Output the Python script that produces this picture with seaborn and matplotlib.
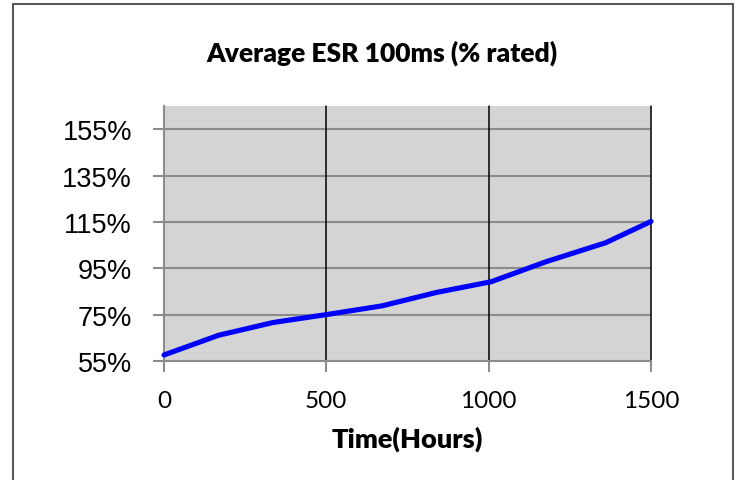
import numpy as np
import pandas as pd
import matplotlib
matplotlib.use("Agg")
import matplotlib.pyplot as plt
import seaborn as sns
from matplotlib.patches import Rectangle
from matplotlib.ticker import FuncFormatter

# values
hours = [0, 168, 336, 504, 672, 840, 1008, 1176, 1360, 1500]
esr_pct = [57.6, 66.1, 71.6, 75.1, 78.8, 84.6, 89.2, 97.8, 106.0, 115.2]
y_ticks = [55, 75, 95, 115, 135, 155]
x_ticks = [0, 500, 1000, 1500]

df = pd.DataFrame({"hours": hours, "esr": esr_pct})

sns.set_theme(style="white")
plt.rcParams["font.family"] = ["Liberation Sans", "DejaVu Sans"]

fig = plt.figure(figsize=(7.35, 4.81), dpi=100)
ax = fig.add_axes([164 / 735, 1 - 362 / 481, (651 - 164) / 735, (362 - 107) / 481])
ax.set_facecolor("#d4d4d4")

# outer frame of the chart object
fig.patches.append(Rectangle((13 / 735, -0.02), 720 / 735, 1.02 - 5 / 481,
                             transform=fig.transFigure, fill=False,
                             edgecolor="#5a5a5a", lw=1.5))

for y in y_ticks[1:]:
    ax.axhline(y, color="#8c8c8c", lw=1.5, zorder=1)
for x in x_ticks[1:]:
    ax.axvline(x, color="black", lw=1.1, zorder=1, clip_on=False)

sns.lineplot(data=df, x="hours", y="esr", ax=ax, color="#0000ff", lw=3.7,
             zorder=3, clip_on=False)

ax.set_xlim(0, 1500)
ax.set_ylim(55, 165)
ax.set_xticks(x_ticks)
ax.set_yticks(y_ticks)
ax.yaxis.set_major_formatter(FuncFormatter(lambda v, p: f"{v:.0f}%"))

for s in ["top", "right"]:
    ax.spines[s].set_visible(False)
for s in ["left", "bottom"]:
    ax.spines[s].set_color("#8c8c8c")
    ax.spines[s].set_linewidth(1.5)

ax.tick_params(axis="both", direction="out", length=8, width=1.5, color="#8c8c8c",
               left=True, bottom=True, labelcolor="black")
ax.tick_params(axis="y", labelsize=19.5, pad=15)
ax.tick_params(axis="x", labelsize=17.5, pad=13)
fig.canvas.draw()
for lab in ax.get_yticklabels():
    lab.set_family(["Liberation Sans", "Arial", "DejaVu Sans"])
for lab in ax.get_xticklabels():
    lab.set_family(["Lato", "DejaVu Sans"])

ax.set_xlabel("Time(Hours)", fontsize=19.5, fontweight="heavy",
              family=["Lato", "DejaVu Sans"], labelpad=10, color="black")
ax.set_ylabel("")
fig.text(382 / 735, 1 - 53 / 481, "Average ESR 100ms (% rated)", ha="center",
         va="center", fontsize=19, fontweight="heavy", color="black",
         family=["Lato", "DejaVu Sans"])

fig.savefig("out.png", dpi=100)
